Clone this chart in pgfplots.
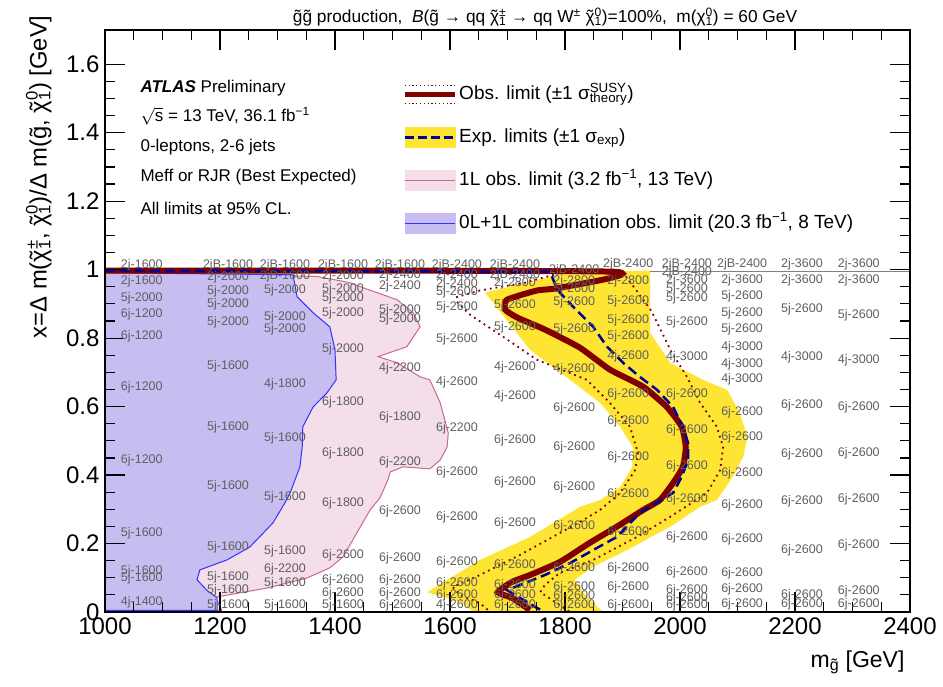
\documentclass[border=0pt]{standalone}
\usepackage{pgfplots}
\pgfplotsset{compat=1.18}
\usepackage{pgfplotstable}
\usepackage{fontspec}
\setmainfont{Liberation Sans}
\definecolor{obsred}{RGB}{128,0,0}
\definecolor{bandyel}{RGB}{255,229,51}
\definecolor{expblue}{RGB}{0,0,153}
\definecolor{lavfill}{RGB}{199,189,240}
\definecolor{pinkfill}{RGB}{243,222,234}
\definecolor{pinkline}{RGB}{204,102,153}
\definecolor{blueline}{RGB}{51,51,255}
\definecolor{labgray}{RGB}{95,95,95}
\newcommand{\tild}[1]{{\accent"02DC #1}}
\newcommand{\supsub}[2]{\begingroup\setbox0\hbox{\textsuperscript{#1}}\setbox2\hbox{\textsubscript{#2}}\ifdim\wd0>\wd2 \rlap{\box2}\box0\else\rlap{\box0}\box2\fi\endgroup}

\pgfplotstableread{
m y
1000 0.994
1369 0.980
1426 0.962
1449 0.947
1508 0.912
1536 0.874
1548 0.833
1525 0.775
1475 0.746
1508 0.728
1548 0.687
1565 0.678
1583 0.611
1591 0.561
1597 0.523
1595 0.482
1583 0.444
1565 0.418
1543 0.421
1518 0.424
1496 0.409
1492 0.386
1478 0.333
1461 0.298
1438 0.231
1414 0.161
1391 0.129
1351 0.099
1282 0.070
1235 0.056
1195 0.044
1153 0.050
1195 0.035
1203 0.005
1000 0.005
1000 0.994
}\pinktab

\pgfplotstableread{
m y
1000 0.991
1327 0.985
1334 0.921
1362 0.874
1391 0.833
1400 0.766
1402 0.678
1386 0.640
1362 0.599
1344 0.541
1343 0.482
1339 0.424
1322 0.348
1313 0.319
1292 0.260
1252 0.190
1212 0.152
1165 0.123
1160 0.094
1177 0.064
1195 0.041
1195 0.005
1000 0.005
1000 0.991
}\bluetab

\pgfplotstableread{
m y
1661 0.933
1739 0.965
1809 0.994
1948 0.997
1948 0.816
1983 0.728
2040 0.678
2082 0.649
2104 0.582
2117 0.512
2110 0.453
2092 0.395
2064 0.327
2035 0.307
1983 0.249
1908 0.181
1849 0.132
1817 0.094
1835 0.050
1866 0.000
1640 0.000
1623 0.026
1560 0.058
1652 0.152
1739 0.219
1826 0.307
1861 0.327
1896 0.365
1917 0.424
1918 0.482
1896 0.541
1861 0.611
1809 0.678
1739 0.766
1661 0.933
}\bandtab

\pgfplotstableread{
m y
1000 0.997
1774 0.994
1783 0.956
1791 0.933
1814 0.892
1849 0.833
1873 0.775
1901 0.728
1930 0.687
1960 0.649
1988 0.599
2005 0.541
2014 0.494
2014 0.444
2003 0.395
1988 0.348
1930 0.289
1890 0.219
1849 0.181
1809 0.143
1765 0.108
1722 0.079
1699 0.064
1722 0.041
1751 0.012
1765 0.000
}\exptab

\pgfplotstableread{
m y
1000 0.997
1883 0.994
1791 0.947
1751 0.939
1699 0.912
1696 0.883
1717 0.860
1765 0.825
1826 0.772
1878 0.708
1936 0.658
1977 0.599
2003 0.541
2010 0.482
2005 0.424
1988 0.377
1965 0.327
1936 0.298
1890 0.249
1843 0.202
1791 0.146
1739 0.108
1708 0.088
1683 0.058
1708 0.041
1739 0.006
}\obstab

\pgfplotstableread{
m y
1800 0.994
1730 0.962
1652 0.939
1612 0.920
1612 0.906
1635 0.868
1687 0.810
1751 0.737
1838 0.678
1878 0.611
1913 0.541
1927 0.465
1922 0.415
1896 0.348
1861 0.298
1826 0.263
1722 0.167
1652 0.108
1605 0.073
1617 0.050
1652 0.026
1670 0.000
}\obsdowntab

\pgfplotstableread{
m y
1900 0.994
1950 0.880
1985 0.760
2012 0.687
2035 0.611
2064 0.541
2075 0.482
2070 0.415
2047 0.348
1983 0.278
1925 0.219
1849 0.152
1791 0.114
1765 0.079
1757 0.058
1791 0.020
1809 0.000
}\obsuptab

\pgfplotstableread{
m y lab
1064 1.012 2j-1600
1064 0.965 2j-1600
1064 0.915 5j-2000
1064 0.871 6j-1200
1064 0.804 6j-1200
1064 0.655 6j-1200
1064 0.444 6j-1200
1064 0.231 5j-1600
1064 0.120 5j-1600
1064 0.099 5j-1600
1064 0.029 4j-1400
1214 1.012 2jB-1600
1214 0.977 2j-2000
1214 0.936 5j-2000
1214 0.898 5j-2000
1214 0.845 5j-2000
1214 0.719 5j-1600
1214 0.541 5j-1600
1214 0.368 5j-1600
1214 0.190 5j-1600
1214 0.102 5j-1600
1214 0.064 5j-1600
1214 0.020 5j-1600
1313 1.012 2jB-1600
1313 0.980 2jB-1600
1313 0.939 5j-2000
1313 0.860 5j-2000
1313 0.825 5j-2000
1313 0.664 4j-1800
1313 0.506 5j-1600
1313 0.336 5j-1600
1313 0.178 5j-1600
1313 0.126 6j-2200
1313 0.085 5j-1600
1313 0.020 5j-1600
1414 1.012 2jB-1600
1414 0.980 2j-2000
1414 0.944 5j-2000
1414 0.915 5j-2000
1414 0.874 5j-2000
1414 0.766 5j-2000
1414 0.614 6j-1800
1414 0.465 6j-1800
1414 0.319 6j-1800
1414 0.167 6j-2600
1414 0.094 6j-2600
1414 0.056 6j-2600
1414 0.020 5j-1600
1513 1.012 2jB-1600
1513 0.985 2j-2400
1513 0.950 2j-2400
1513 0.880 5j-2000
1513 0.854 5j-2000
1513 0.713 4j-2200
1513 0.570 6j-1800
1513 0.436 6j-2200
1513 0.295 6j-2600
1513 0.158 6j-2600
1513 0.094 6j-2600
1513 0.056 6j-2600
1513 0.020 6j-2600
1612 1.012 2jB-2400
1612 0.985 2j-2400
1612 0.956 2j-2400
1612 0.933 5j-2600
1612 0.889 5j-2600
1612 0.798 5j-2600
1612 0.670 4j-2600
1612 0.538 6j-2200
1612 0.409 6j-2600
1612 0.278 6j-2600
1612 0.146 6j-2600
1612 0.085 6j-2600
1612 0.050 6j-2600
1612 0.020 4j-2600
1713 1.012 2jB-2400
1713 0.985 2jB-2400
1713 0.959 2j-2800
1713 0.895 5j-2600
1713 0.833 5j-2600
1713 0.716 4j-2600
1713 0.629 4j-2600
1713 0.503 6j-2600
1713 0.380 6j-2600
1713 0.260 6j-2600
1713 0.137 6j-2600
1713 0.079 6j-2600
1713 0.050 6j-2600
1713 0.020 6j-2600
1816 0.997 2jB-2400
1816 0.965 2j-2800
1816 0.942 5j-2600
1816 0.906 5j-2600
1816 0.825 5j-2600
1816 0.708 4j-2600
1816 0.596 6j-2600
1816 0.480 6j-2600
1816 0.363 6j-2600
1816 0.251 6j-2600
1816 0.129 6j-2600
1816 0.073 6j-2600
1816 0.047 6j-2600
1816 0.020 6j-2600
1910 1.015 2jB-2400
1910 0.965 2j-2800
1910 0.909 5j-2600
1910 0.851 5j-2600
1910 0.804 5j-2600
1910 0.746 4j-2600
1910 0.637 6j-2600
1910 0.558 6j-2600
1910 0.453 6j-2600
1910 0.345 6j-2600
1910 0.234 6j-2600
1910 0.129 6j-2600
1910 0.073 6j-2600
1910 0.020 6j-2600
2012 1.015 2jB-2400
2012 0.991 2jB-2400
2012 0.968 2j-3600
2012 0.944 5j-2600
2012 0.915 5j-2600
2012 0.845 5j-2600
2012 0.743 4j-3000
2012 0.637 6j-2600
2012 0.532 6j-2600
2012 0.427 6j-2600
2012 0.330 6j-2600
2012 0.219 6j-2600
2012 0.117 6j-2600
2012 0.064 6j-2600
2012 0.041 6j-2600
2012 0.020 6j-2600
2108 1.015 2jB-2400
2108 0.968 2j-3600
2108 0.921 5j-2600
2108 0.874 5j-2600
2108 0.825 5j-2600
2108 0.772 4j-3000
2108 0.725 4j-3000
2108 0.681 4j-3000
2108 0.582 6j-2600
2108 0.509 6j-2600
2108 0.406 6j-2600
2108 0.313 6j-2600
2108 0.213 6j-2600
2108 0.114 6j-2600
2108 0.067 6j-2600
2108 0.023 6j-2600
2212 1.015 2j-3600
2212 0.968 2j-3600
2212 0.883 5j-2600
2212 0.743 4j-3000
2212 0.605 6j-2600
2212 0.462 6j-2600
2212 0.322 6j-2600
2212 0.181 6j-2600
2212 0.050 6j-2600
2212 0.023 6j-2600
2311 1.015 2j-3600
2311 0.968 2j-3600
2311 0.868 5j-2600
2311 0.734 4j-3000
2311 0.599 6j-2600
2311 0.465 6j-2600
2311 0.330 6j-2600
2311 0.196 6j-2600
2311 0.061 6j-2600
2311 0.023 6j-2600
}\labtab

\begin{document}
\begin{tikzpicture}
\begin{axis}[
  name=ax,
  width=805pt, height=582pt, scale only axis,
  xmin=1000, xmax=2400, ymin=0, ymax=1.7,
  xtick={1000,1200,...,2400}, ytick={0,0.2,0.4,0.6,0.8,1,1.2,1.4,1.6},
  minor x tick num=3, minor y tick num=3,
  tick align=inside, major tick length=20pt, minor tick length=10pt,
  every tick/.style={black, line width=1.2pt},
  axis line style={line width=1.6pt},
  ticklabel style={font=\fontsize{24}{24}\selectfont},
  /pgf/number format/assume math mode=true,
  /pgf/number format/1000 sep={},
  scaled ticks=false,
  xticklabel style={yshift=-2pt},
  yticklabel style={xshift=-2pt},
  axis on top,
  xlabel={m\textsubscript{\tild{g}} [GeV]},
  xlabel style={at={(rel axis cs:1,0)}, anchor=north east, yshift=-35pt, xshift=-2pt, font=\fontsize{23}{23}\selectfont},
  ylabel={x=Δ m(\tild{χ}\supsub{±}{1}, \tild{χ}\supsub{0}{1})/Δ m(\tild{g}, \tild{χ}\supsub{0}{1}) [GeV]},
  ylabel style={at={(rel axis cs:-0.0621,1.031)}, anchor=south east, font=\fontsize{23.8}{24}\selectfont},
  title={\tild{g}\tild{g} production,\ \ \textit{B}(\tild{g} → qq \tild{χ}\supsub{±}{1} → qq W\textsuperscript{±} \tild{χ}\supsub{0}{1})=100\%,\ \ m(χ\supsub{0}{1}) = 60 GeV},
  title style={at={(rel axis cs:0.5466,1.0103)}, anchor=base, yshift=-5pt, font=\fontsize{17.3}{18}\selectfont},
  legend style={at={(rel axis cs:0.369,0.909)}, anchor=north west, draw=none, fill=none,
    font=\fontsize{19}{21}\selectfont, row sep=20pt, inner sep=0pt,
    nodes={inner sep=2pt, text height=14pt, text depth=5pt}},
  legend cell align=left,
]
\addlegendimage{legend image code/.code={
  \draw[obsred, line width=1.3pt, dash pattern=on 1.3pt off 2.5pt] (0pt,9pt)--(50pt,9pt);
  \draw[obsred, line width=1.3pt, dash pattern=on 1.3pt off 2.5pt] (0pt,-9pt)--(50pt,-9pt);
  \draw[obsred, line width=5pt] (0pt,0pt)--(50pt,0pt);}}
\addlegendentry{Obs. limit (±1 σ\supsub{SUSY}{theory})}
\addlegendimage{legend image code/.code={
  \fill[bandyel] (0pt,-10pt) rectangle (50pt,10pt);
  \draw[expblue, line width=2.5pt, dash pattern=on 9pt off 4pt] (0pt,0pt)--(50pt,0pt);}}
\addlegendentry{Exp. limits (±1 σ\textsubscript{exp})}
\addlegendimage{legend image code/.code={
  \fill[pinkfill] (0pt,-10pt) rectangle (50pt,10pt);
  \draw[pinkline, line width=1pt] (0pt,0pt)--(50pt,0pt);}}
\addlegendentry{1L obs. limit (3.2 fb\textsuperscript{−1}, 13 TeV)}
\addlegendimage{legend image code/.code={
  \fill[lavfill] (0pt,-10pt) rectangle (50pt,10pt);
  \draw[blueline, line width=1pt] (0pt,0pt)--(50pt,0pt);}}
\addlegendentry{0L+1L combination obs. limit (20.3 fb\textsuperscript{−1}, 8 TeV)}

\addplot[forget plot, fill=pinkfill, draw=pinkline, line width=1pt] table[x=m,y=y]{\pinktab};
\addplot[forget plot, fill=lavfill, draw=blueline, line width=1pt] table[x=m,y=y]{\bluetab};
\addplot[forget plot, fill=bandyel, draw=none] table[x=m,y=y]{\bandtab};
\addplot[forget plot, gray, line width=0.8pt] coordinates {(1948,0.994) (2400,0.994)};
\addplot[forget plot, obsred, line width=1.8pt, dash pattern=on 1.8pt off 4pt] table[x=m,y=y]{\obsdowntab};
\addplot[forget plot, obsred, line width=1.8pt, dash pattern=on 1.8pt off 4pt] table[x=m,y=y]{\obsuptab};
\addplot[forget plot, obsred, line width=6pt, smooth, tension=0.3] table[x=m,y=y]{\obstab};
\addplot[forget plot, expblue, line width=2.5pt, dash pattern=on 10pt off 5pt] table[x=m,y=y]{\exptab};
\addplot[forget plot, draw=none, mark=none, nodes near coords, point meta=explicit symbolic,
  every node near coord/.append style={anchor=center, inner sep=0pt, text=labgray, font=\fontsize{12.5}{13}\selectfont}]
  table[x=m,y=y,meta=lab]{\labtab};

\node[anchor=west, font=\fontsize{17}{19}\selectfont] at (rel axis cs:0.0398,0.900) {\textbf{\textit{ATLAS}} Preliminary};
\node[anchor=west, font=\fontsize{17}{19}\selectfont] at (rel axis cs:0.0398,0.852) {$\sqrt{\mbox{s}}$ = 13 TeV, 36.1 fb\textsuperscript{−1}};
\node[anchor=west, font=\fontsize{17}{19}\selectfont] at (rel axis cs:0.0398,0.799) {0-leptons, 2-6 jets};
\node[anchor=west, font=\fontsize{17}{19}\selectfont] at (rel axis cs:0.0398,0.747) {Meff or RJR (Best Expected)};
\node[anchor=west, font=\fontsize{17}{19}\selectfont] at (rel axis cs:0.0398,0.694) {All limits at 95\% CL.};
\end{axis}
\pgfresetboundingbox
\path[use as bounding box] ([shift={(-105pt,-75pt)}]ax.south west) rectangle ([shift={(33pt,30pt)}]ax.north east);
\end{tikzpicture}
\end{document}
